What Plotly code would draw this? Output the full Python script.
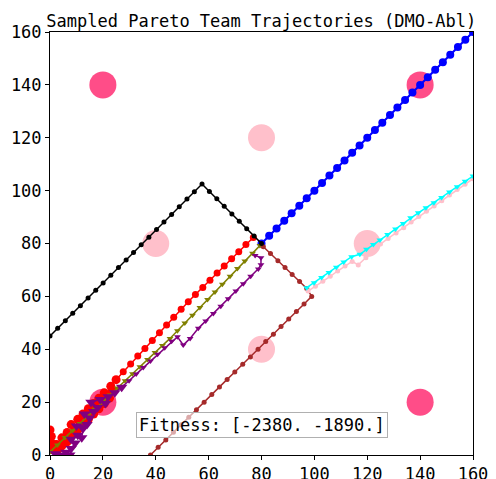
import plotly.graph_objects as go

TITLE = "Sampled Pareto Team Trajectories (DMO-Abl)"
FITNESS_TEXT = "Fitness: [-2380. -1890.]"
TICKS = [0, 20, 40, 60, 80, 100, 120, 140, 160]

# Points of interest
poi_dark_x = [20, 140, 140, 20]
poi_dark_y = [140, 140, 20, 20]
poi_light_x = [80, 40, 120, 80]
poi_light_y = [120, 80, 80, 40]

# Trajectories
black_x = [0, 2.9, 5.8, 8.6, 11.5, 14.4, 17.3, 20.1, 23, 25.9, 28.8, 31.6, 34.5, 37.4, 40.3, 43.1, 46, 48.9, 51.8, 54.6, 57.5,
           60.3, 63.1, 65.9, 68.8, 71.6, 74.4, 77.2, 80]
black_y = [45, 47.9, 50.8, 53.6, 56.5, 59.4, 62.3, 65.1, 68, 70.9, 73.8, 76.6, 79.5, 82.4, 85.3, 88.1, 91, 93.9, 96.8, 99.6, 102.5,
           99.7, 96.9, 94.1, 91.2, 88.4, 85.6, 82.8, 80]

blue_x = [80, 82.9, 85.7, 88.6, 91.4, 94.3, 97.1, 100, 102.9, 105.7, 108.6, 111.4, 114.3, 117.1, 120, 122.9, 125.7, 128.6,
          131.4, 134.3, 137.1, 140, 142.9, 145.7, 148.6, 151.4, 154.3, 157.1, 160]
blue_y = [80, 82.9, 85.7, 88.6, 91.4, 94.3, 97.1, 100, 102.9, 105.7, 108.6, 111.4, 114.3, 117.1, 120, 122.9, 125.7, 128.6,
          131.4, 134.3, 137.1, 140, 142.9, 145.7, 148.6, 151.4, 154.3, 157.1, 160]

red_x = [0, 0.5, 0, 1.5, 1, 2.5, 3.5, 2.5, 4.5, 5.5, 4.5, 6.5, 7.5, 6.5, 8.5, 9.5, 8, 10.5, 11.5, 10.5, 12.5, 13.5, 12.5,
         14.5, 15.5, 14.5, 16.5, 17.5, 16.5, 18.5, 19.5, 18.5, 20.5, 21.5, 20.5, 22.5, 23.5, 23, 25,
         27.7, 30.5, 33.2, 35.9, 38.7, 41.4, 44.1, 46.8, 49.6, 52.3, 55, 57.8, 60.5, 63.2, 65.9, 68.7, 71.4, 74.1, 76.9]
red_y = [9.5, 7, 5, 4, 2, 1.5, 2.5, 4, 3.5, 5.5, 6.5, 5, 7.5, 8.5, 8, 10, 11.5, 9.5, 12, 13.5, 11.5, 14.5, 15.5,
         13.5, 16, 17.5, 15.5, 18.5, 19.5, 17.5, 20.5, 21.5, 19.5, 22.5, 23.5, 21.5, 24.5, 26, 28.5,
         31.5, 34.4, 37.4, 40.3, 43.3, 46.2, 49.2, 52.1, 55.1, 58, 60.7, 63.4, 66.1, 68.8, 71.5, 74.2, 76.9, 79.6, 82.3]

olive_x = [0, 2.8, 5.7, 8.5, 11.3, 14.2, 17, 19.9, 22.7, 25.5, 28.4, 31.2, 34, 36.9, 39.7, 42.5, 45.4, 48.2, 51, 53.9,
           56.7, 59.6, 62.4, 65.2, 68.1, 70.9, 73.7, 76.6, 79.4]
olive_y = [1.2, 3.8, 6.6, 9.2, 11.9, 14.6, 17.3, 20, 22.7, 25.3, 28.1, 30.7, 33.4, 36.1, 38.8, 41.4, 44.1, 47, 49.9, 52.9,
           55.8, 58.8, 61.7, 64.6, 67.6, 70.5, 73.4, 76.3, 79.2]

purple_x = [2, 4, 6, 7.5, 8, 9.5, 8, 10.5, 12, 12.5, 10, 14, 15, 13, 16.5, 18, 15.5, 19, 21, 22, 24.5, 27.1,
            29.9, 32.6, 35.3, 38, 40.7, 43.4, 46, 48.2, 50.4, 53, 56.1, 58.9, 61.8, 64.6, 67.4, 70.3, 73.1, 75.9,
            78.8, 79.8, 79.8, 77.6]
purple_y = [0.5, 0, 1, 0, 2.5, 4.5, 6, 7.5, 6.5, 10, 11, 11.5, 14, 15.5, 16.5, 18, 20, 21, 19.5, 22, 23.5, 25.6,
            28.1, 30.6, 33.1, 35.6, 38.1, 40.6, 43, 44.7, 41.6, 44.1, 47.9, 50.7, 53.5, 56.3, 59.1, 62, 64.8, 67.6,
            70.4, 72, 74.6, 75.5]

brown_x = [38, 40.9, 43.8, 46.7, 49.6, 52.5, 55.4, 58.3, 61.2, 64.1, 67, 69.9, 72.9, 75.8, 78.7, 81.6, 84.5, 87.4, 90.3,
           93.2, 96.1, 99, 97.1, 94.4, 91.6, 88.9, 86.2, 83.4, 80.7]
brown_y = [0, 2.9, 5.7, 8.6, 11.4, 14.3, 17.1, 20, 22.9, 25.7, 28.6, 31.4, 34.3, 37.1, 40, 42.9, 45.7, 48.6, 51.4,
           54.3, 57.1, 60, 63, 65.6, 68.3, 70.9, 73.5, 76.2, 78.8]

cyan_x = [97.1, 99.9, 102.7, 105.5, 108.3, 111.1, 114.1, 117.2, 119.7, 122.3, 124.8, 127.7, 130.7, 133.6, 136.4, 139.3,
          142.2, 145.2, 148.1, 151.1, 154, 157, 160]
cyan_y = [63.3, 65.2, 67.1, 69, 71, 73, 75, 75.9, 77.8, 79.6, 81.3, 83.4, 85.5, 87.6, 89.7, 91.6,
          93.5, 95.4, 97.4, 99.5, 101.5, 103.5, 105.5]

pink_x = [97.6, 100.4, 103.2, 106, 108.8, 111.6, 114.3, 116.6, 119.5, 122.3, 125, 127.9, 130.9, 133.8, 136.6, 139.5,
          142.4, 145.3, 148.2, 151.1, 154, 157, 160]
pink_y = [62, 63.8, 65.7, 67.6, 69.6, 71.5, 73.2, 71.9, 74.6, 77.5, 79.8, 81.9, 84, 86, 88.1, 90.2,
          92.2, 94.2, 96.2, 98.3, 100.4, 102.4, 104.5]

FONT = "DejaVu Sans Mono"

fig = go.Figure()

fig.add_trace(go.Scatter(x=poi_dark_x, y=poi_dark_y, mode="markers",
                         marker=dict(size=27, color="#ff4d88", opacity=1, line=dict(width=0))))
fig.add_trace(go.Scatter(x=poi_light_x, y=poi_light_y, mode="markers",
                         marker=dict(size=27, color="#ffc0cb", opacity=1, line=dict(width=0))))


def traj(x, y, color, symbol, msize, lw=1.5, big_first=0, big_size=None):
    sizes = [big_size if (big_size and i < big_first) else msize for i in range(len(x))]
    fig.add_trace(go.Scatter(x=x, y=y, mode="lines+markers",
                             line=dict(color=color, width=lw),
                             marker=dict(color=color, size=sizes, symbol=symbol, opacity=1,
                                         line=dict(width=0))))


traj(blue_x, blue_y, "#0000ff", "circle", 8, 2)
traj(red_x, red_y, "#ff0000", "circle", 7, big_first=39, big_size=9)
traj(olive_x, olive_y, "#808000", "triangle-down", 6)
traj(purple_x, purple_y, "#800080", "triangle-down", 6, big_first=22, big_size=10)
traj(brown_x, brown_y, "#a52a2a", "circle", 5)
traj(pink_x, pink_y, "#ffc0cb", "circle", 5)
traj(cyan_x, cyan_y, "#00ffff", "triangle-down", 6)
traj(black_x, black_y, "#000000", "circle", 5)

axis_common = dict(range=[0, 160], tickvals=TICKS, ticks="outside", ticklen=4, tickwidth=1, tickcolor="black",
                   showline=True, linecolor="black", linewidth=1, mirror=True, showgrid=False, zeroline=False,
                   automargin=False,
                   tickfont=dict(family=FONT, size=17, color="black"), fixedrange=True)

# The page body adds an 8px offset at top/left, so the figure is sized 8px smaller on each axis.
fig.update_layout(
    width=488, height=471,
    margin=dict(l=42, r=23, t=24, b=24, autoexpand=False),
    plot_bgcolor="white", paper_bgcolor="white",
    showlegend=False,
    xaxis=axis_common,
    yaxis=axis_common,
    title=dict(text=TITLE, font=dict(family=FONT, size=17, color="black"),
               x=0.519, xanchor="center", xref="container", y=0.972, yanchor="middle", yref="container"),
    annotations=[dict(x=80, y=11.3, xref="x", yref="y", text=FITNESS_TEXT, showarrow=False,
                      font=dict(family=FONT, size=17, color="black"),
                      bgcolor="rgba(255,255,255,0.6)", bordercolor="#b0b0b0", borderwidth=1, borderpad=2)],
)

fig.write_html("out.html")
